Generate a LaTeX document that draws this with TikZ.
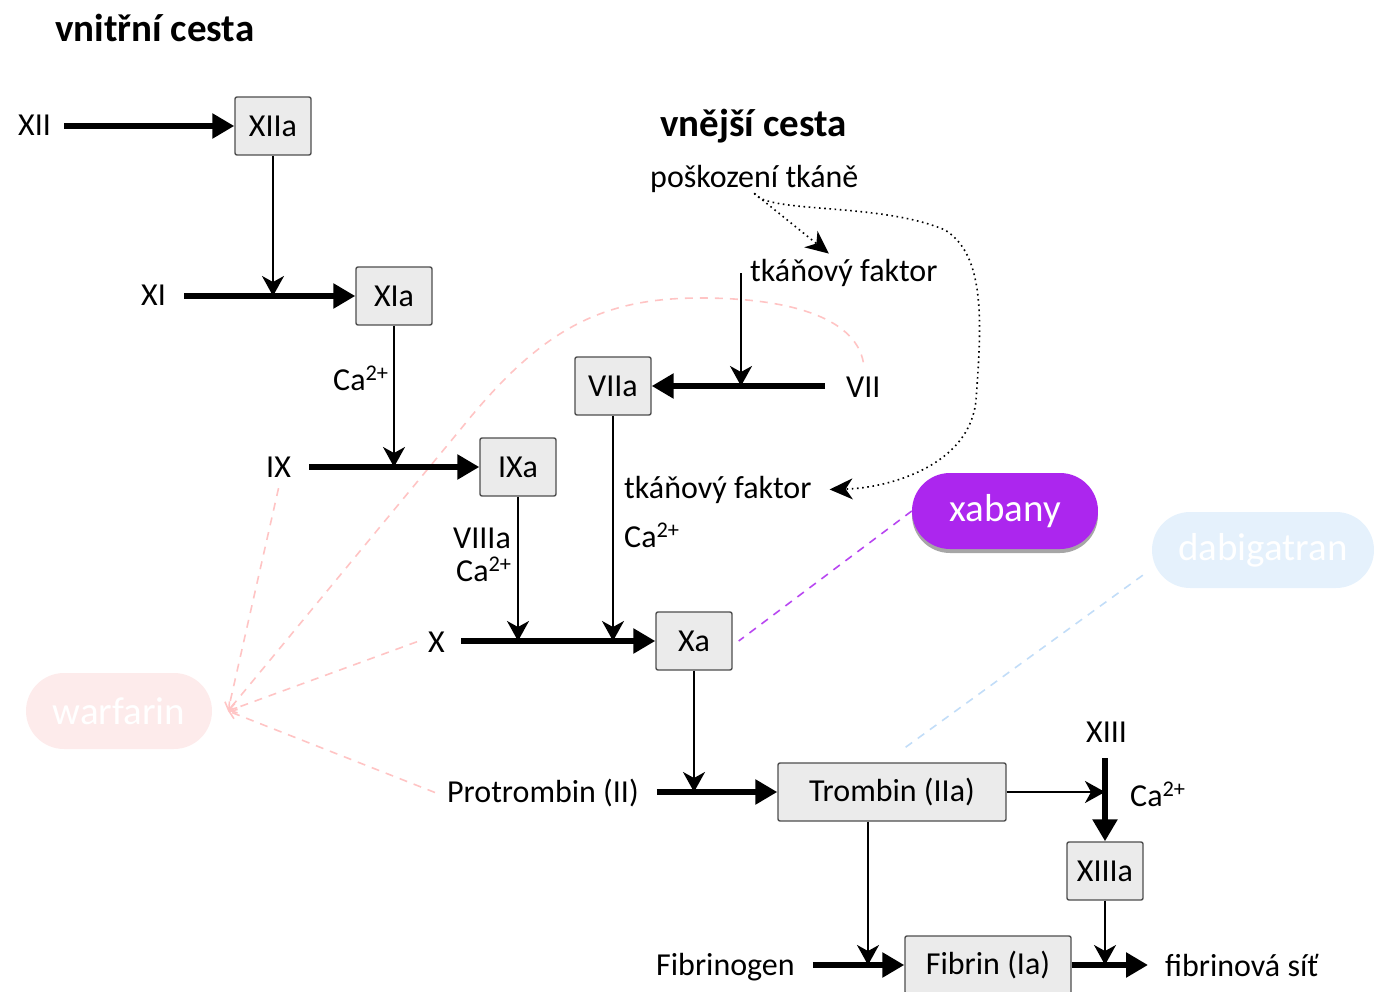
\documentclass[tikz,border=0pt]{standalone}
\usepackage{fontspec}
\setmainfont{Carlito}
\usetikzlibrary{arrows.meta,shadows,calc}
\definecolor{boxfill}{HTML}{EBEBEB}
\definecolor{boxline}{HTML}{4D4D4D}
\definecolor{xapurple}{RGB}{172,38,238}
\definecolor{warpink}{HTML}{FDEBEB}
\definecolor{warline}{HTML}{FFC4C4}
\definecolor{dabblue}{HTML}{E5F1FC}
\definecolor{dabline}{HTML}{C2DDF8}
\pgfdeclarelayer{bg}
\pgfsetlayers{bg,main}
\begin{document}
\begin{tikzpicture}[x=1pt,y=-1pt,
  every node/.style={font=\fontsize{32}{37}\selectfont, inner sep=0pt},
  factor/.style={draw=boxline, fill=boxfill, line width=1.4pt, rounded corners=2pt,
    minimum width=76pt, minimum height=58pt},
  lbl/.style={anchor=base west},
  heading/.style={anchor=base west, font=\fontsize{39}{44}\selectfont\bfseries},
  drug/.style={rounded corners=38pt, minimum width=186pt, minimum height=76pt,
    text=white, font=\fontsize{39}{44}\selectfont},
  mainflow/.style={line width=6.5pt, -{Triangle[length=22pt,width=24pt]}},
  feed/.style={line width=2pt, -{Stealth[length=20pt,width=22pt,inset=6pt]}},
  hint/.style={line width=1.6pt, dash pattern=on 1.6pt off 3.6pt,
    -{Stealth[length=23pt,width=21pt,inset=7pt]}},
  druglink/.style={line width=1.6pt, dash pattern=on 8pt off 7pt},
  warlink/.style={druglink, draw=warline, -{Straight Barb[length=7pt,width=10pt]}},
]
\useasboundingbox (0,0) rectangle (1374,992);

% headings
\node[heading] (tin) at (55,42) {vnitřní cesta};
\node[heading] (tex) at (660,137) {vnější cesta};
\node[lbl] (dmg) at (650,188) {poškození tkáně};

% activated factors
\node[factor] (XIIa) at (273,126) {XIIa};
\node[factor] (XIa) at (394,296) {XIa};
\node[factor] (IXa) at (518,467) {IXa};
\node[factor] (VIIa) at (613,386) {VIIa};
\node[factor] (Xa) at (694,641) {Xa};
\node[factor, minimum width=228pt] (IIa) at (892,792) {Trombin (IIa)};
\node[factor] (XIIIa) at (1105,871) {XIIIa};
\node[factor, minimum width=166pt] (Ia) at (988,965) {Fibrin (Ia)};

% zymogens and cofactors
\node[lbl] (XII) at (18,136) {XII};
\node[lbl] (XI) at (141,306) {XI};
\node[lbl] (IX) at (266,477) {IX};
\node[lbl] (X) at (428,652) {X};
\node[lbl] (VII) at (846,397) {VII};
\node[lbl] (II) at (447,802) {Protrombin (II)};
\node[lbl] (XIII) at (1086,742) {XIII};
\node[lbl] (Fg) at (656,975) {Fibrinogen};
\node[lbl] (net) at (1165,976) {fibrinová síť};
\node[lbl] (tf1) at (750,282) {tkáňový faktor};
\node[lbl] (tf2) at (624,498) {tkáňový faktor};
\node[lbl] (ca1) at (333,390) {Ca\textsuperscript{2+}};
\node[lbl] (f8a) at (453,548) {VIIIa};
\node[lbl] (ca2) at (456,581) {Ca\textsuperscript{2+}};
\node[lbl] (ca3) at (624,547) {Ca\textsuperscript{2+}};
\node[lbl] (ca4) at (1130,806) {Ca\textsuperscript{2+}};

% anticoagulants
\node[drug, fill=xapurple,
  drop shadow={shadow xshift=0pt, shadow yshift=-4pt, fill=black, opacity=0.35}]
  (xab) at (1005,511) {xabany};
\node[drug, fill=dabblue, minimum width=222pt] (dab) at (1263,550) {dabigatran};
\node[drug, fill=warpink] (war) at (119,711) {warfarin};

% inhibition links
\coordinate (wtip) at (228,711);
\begin{pgfonlayer}{bg}
  \draw[warlink] ([yshift=-11pt]IX.south) -- (wtip);
  \draw[warlink] ([xshift=-11pt]X.west) -- (wtip);
  \draw[warlink] ([xshift=-12pt]II.west) -- (wtip);
  \draw[warlink] ([yshift=14pt]VII.north) .. controls (856,322) and (800,298) .. (700,298)
    .. controls (600,298) and (540,330) .. (460,430) -- (wtip);
  \draw[druglink, draw=xapurple!85] (xab.west) -- ([xshift=6pt]Xa.east);
  \draw[druglink, draw=dabline] ([xshift=-9pt,yshift=13pt]dab.south west)
    -- ([xshift=8pt,yshift=11pt]IIa.north);
\end{pgfonlayer}

% main conversions
\draw[mainflow, shorten <=13pt] (XII.east |- XIIa.west) -- (XIIa.west);
\draw[mainflow, shorten <=18pt] (XI.east |- XIa.west) -- (XIa.west);
\draw[mainflow, shorten <=18pt] (IX.east |- IXa.west) -- (IXa.west);
\draw[mainflow, shorten <=16pt] (X.east |- Xa.west) -- (Xa.west);
\draw[mainflow, shorten <=21pt] (VII.west |- VIIa.east) -- (VIIa.east);
\draw[mainflow, shorten <=18pt] (II.east |- IIa.west) -- (IIa.west);
\draw[mainflow, shorten <=16pt] (XIIIa.north |- XIII.south) -- (XIIIa.north);
\draw[mainflow, shorten <=18pt] (Fg.east |- Ia.west) -- (Ia.west);
\draw[mainflow, shorten >=17pt] (Ia.east) -- (net.west |- Ia.east);

% activating inputs
\draw[feed] (XIIa.south) -- (XIIa.south |- XIa.west);
\draw[feed] (XIa.south) -- (XIa.south |- IXa.west);
\draw[feed] (IXa.south) -- (IXa.south |- Xa.west);
\draw[feed] (VIIa.south) -- (VIIa.south |- Xa.west);
\draw[feed] (Xa.south) -- (Xa.south |- IIa.west);
\draw[feed] (IIa.east) -- (IIa.east -| XIIIa.north);
\coordinate (tdrop) at ([xshift=-24pt]IIa.south);
\draw[feed] (tdrop) -- (tdrop |- Ia.west);
\draw[feed] (XIIIa.south) -- (XIIIa.south |- Ia.east);
\coordinate (tfdrop) at ([xshift=-9pt]tf1.west);
\draw[feed] (tfdrop) -- (tfdrop |- VIIa.east);

% tissue damage releases tissue factor
\draw[hint] (dmg.south) -- ([xshift=-15pt,yshift=6pt]tf1.north);
\draw[hint] (dmg.south) .. controls (768,214) and (880,202) .. (945,230)
  .. controls (985,255) and (982,320) .. (976,400)
  .. controls (970,465) and (890,488) .. ([xshift=18pt]tf2.east);
\end{tikzpicture}
\end{document}
